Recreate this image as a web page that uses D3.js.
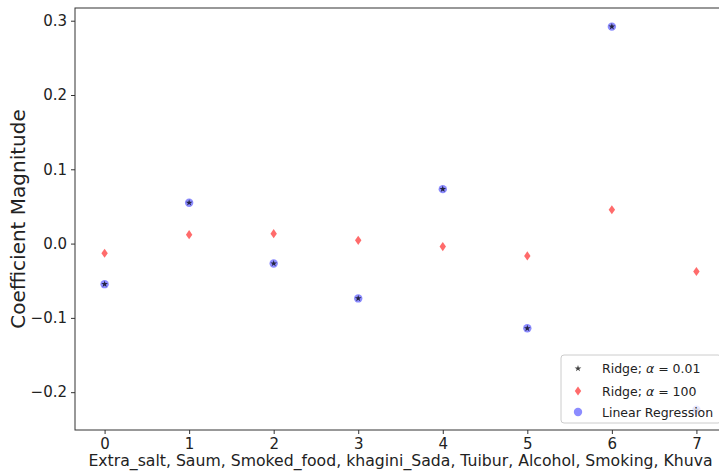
<!DOCTYPE html>
<html>
<head>
<meta charset="utf-8">
<script src="https://cdn.jsdelivr.net/npm/d3@7"></script>
<style>
  body { margin: 0; background: white; }
  svg { display: block; font-family: "DejaVu Sans", sans-serif; }
</style>
</head>
<body>
<div id="chart"></div>
<script>
// coefficients per feature index (0..7)
var features = [0, 1, 2, 3, 4, 5, 6, 7];
var ridgeSmall = [-0.0546, 0.055, -0.0268, -0.0738, 0.0733, -0.114, 0.292, -0.2237];   // Ridge alpha = 0.01
var ridgeBig = [-0.013, 0.012, 0.0134, 0.0044, -0.004, -0.0166, 0.0456, -0.0376];      // Ridge alpha = 100
var linReg = [-0.0546, 0.055, -0.0268, -0.0738, 0.0733, -0.114, 0.292, -0.2237];       // Linear Regression
var yTicks = [-0.2, -0.1, 0.0, 0.1, 0.2, 0.3];
var xLabel = "Extra_salt, Saum, Smoked_food, khagini_Sada, Tuibur, Alcohol, Smoking, Khuva";
var yLabel = "Coefficient Magnitude";

var W = 719, H = 476;
// plot box (right spine sits just off the picture)
var mLeft = 75, mTop = 8, mRight = 726, mBottom = 430;

var svg = d3.select("#chart").append("svg")
  .attr("width", W)
  .attr("height", H);

var xScale = d3.scaleLinear().domain([-0.35, 7.35]).range([mLeft, mRight]);
var yScale = d3.scaleLinear().domain([-0.2509, 0.3171]).range([mBottom, mTop]);

// thin diamond like matplotlib 'd'
var thinDiamond = {
  draw: function(ctx, size) {
    var h = Math.sqrt(size) / 2;
    var w = h * 0.7;
    ctx.moveTo(0, -h);
    ctx.lineTo(w, 0);
    ctx.lineTo(0, h);
    ctx.lineTo(-w, 0);
    ctx.closePath();
  }
};

var circleSym = d3.symbol().type(d3.symbolCircle).size(Math.PI * 4.2 * 4.2);
var starSym = d3.symbol().type(d3.symbolStar).size(14);
var diamondSym = d3.symbol().type(thinDiamond).size(84);

// axes
var xAxis = d3.axisBottom(xScale).tickValues(features).tickFormat(d3.format("d")).tickSizeOuter(0).tickSize(4).tickPadding(4);
var yAxis = d3.axisLeft(yScale).tickValues(yTicks).tickSizeOuter(0).tickSize(4).tickPadding(4)
  .tickFormat(function(d) { return d3.format(".1f")(d).replace("-", "\u2212"); });

var gx = svg.append("g").attr("transform", "translate(0," + mBottom + ")").call(xAxis);
var gy = svg.append("g").attr("transform", "translate(" + mLeft + ",0)").call(yAxis);
[gx, gy].forEach(function(g) {
  g.attr("font-family", null).attr("font-size", null);
  g.select(".domain").remove();
  g.selectAll("line").attr("stroke", "#333");
  g.selectAll("text").attr("fill", "#222").style("font-size", "15px");
});

// spines
svg.append("rect")
  .attr("x", mLeft).attr("y", mTop)
  .attr("width", mRight - mLeft).attr("height", mBottom - mTop)
  .attr("fill", "none").attr("stroke", "#333").attr("stroke-width", 1);

// points: linear regression underneath, ridge 100, then ridge 0.01 star on top
svg.selectAll("path.lr").data(linReg).enter().append("path")
  .attr("class", "lr")
  .attr("d", circleSym)
  .attr("transform", function(d, i) { return "translate(" + xScale(features[i]) + "," + yScale(d) + ")"; })
  .attr("fill", "blue").attr("fill-opacity", 0.45);

svg.selectAll("path.r100").data(ridgeBig).enter().append("path")
  .attr("class", "r100")
  .attr("d", diamondSym)
  .attr("transform", function(d, i) { return "translate(" + xScale(features[i]) + "," + yScale(d) + ")"; })
  .attr("fill", "red").attr("fill-opacity", 0.58);

svg.selectAll("path.r001").data(ridgeSmall).enter().append("path")
  .attr("class", "r001")
  .attr("d", starSym)
  .attr("transform", function(d, i) { return "translate(" + xScale(features[i]) + "," + yScale(d) + ")"; })
  .attr("fill", "black").attr("fill-opacity", 0.75);

// axis labels
svg.append("text")
  .attr("x", (mLeft + mRight) / 2)
  .attr("y", 466)
  .attr("text-anchor", "middle")
  .style("font-size", "15.7px")
  .attr("fill", "#222")
  .text(xLabel);

svg.append("text")
  .attr("transform", "translate(25," + ((mTop + mBottom) / 2) + ") rotate(-90)")
  .attr("text-anchor", "middle")
  .style("font-size", "20px")
  .attr("fill", "#222")
  .text(yLabel);

// legend
var legend = svg.append("g").attr("transform", "translate(561,355)");
legend.append("rect")
  .attr("width", 160).attr("height", 68)
  .attr("rx", 3)
  .attr("fill", "white").attr("fill-opacity", 0.8)
  .attr("stroke", "#ccc");

var items = [
  { sym: starSym, fill: "black", op: 0.75, label: "Ridge; ", math: "0.01" },
  { sym: diamondSym, fill: "red", op: 0.58, label: "Ridge; ", math: "100" },
  { sym: circleSym, fill: "blue", op: 0.45, label: "Linear Regression", math: null }
];
var rowY = [13.5, 36, 57];

items.forEach(function(it, i) {
  legend.append("path")
    .attr("d", it.sym)
    .attr("transform", "translate(17," + rowY[i] + ")")
    .attr("fill", it.fill).attr("fill-opacity", it.op);
  var t = legend.append("text")
    .attr("x", 41)
    .attr("y", rowY[i] + 4.5)
    .style("font-size", "12.5px")
    .attr("fill", "#222");
  t.append("tspan").text(it.label);
  if (it.math) {
    t.append("tspan").style("font-style", "italic").text("\u03b1");
    t.append("tspan").text(" = " + it.math);
  }
});
</script>
</body>
</html>
